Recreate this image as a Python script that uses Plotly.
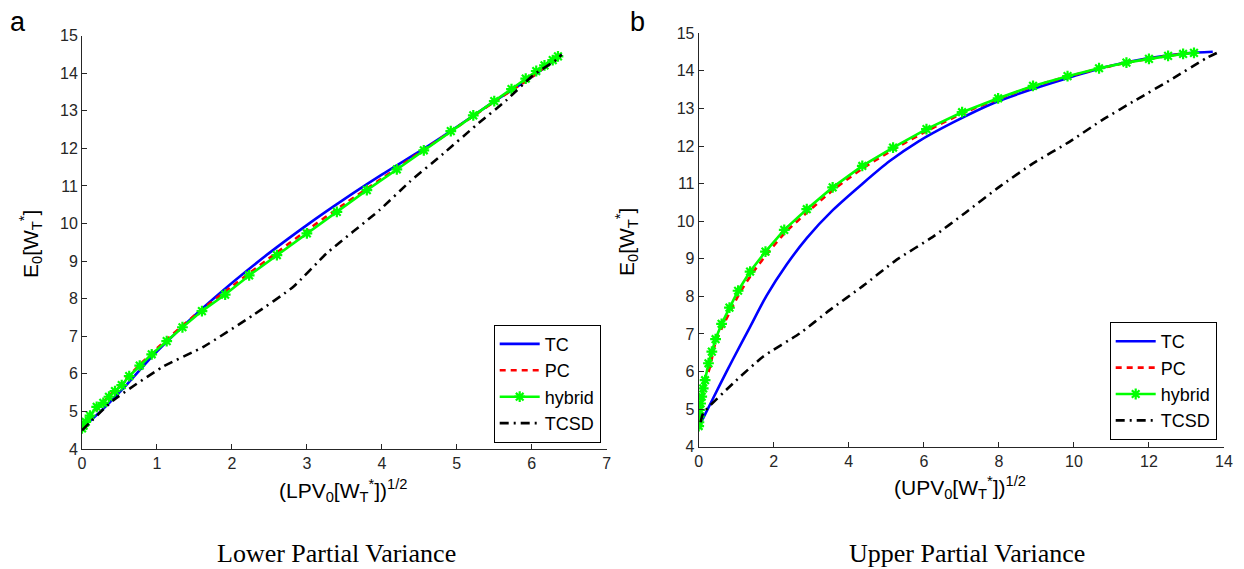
import plotly.graph_objects as go

# ---- Panel a: Lower Partial Variance ----
a_tc_x = [0, 0.3, 0.6, 0.93, 1.13, 1.5, 2.02, 2.5, 3.0, 3.5, 4.0, 4.55, 4.91, 5.5, 6.0, 6.4]
a_tc_y = [4.55, 5.1, 5.72, 6.45, 6.85, 7.55, 8.45, 9.22, 9.96, 10.65, 11.3, 11.98, 12.45, 13.25, 13.9, 14.5]

a_pc_x = [0, 0.3, 0.6, 1.0, 1.5, 2.02, 2.5, 3.0, 3.5, 4.0, 4.5, 5.0, 5.5, 6.0, 6.38]
a_pc_y = [4.55, 5.28, 5.9, 6.68, 7.55, 8.36, 9.08, 9.82, 10.52, 11.2, 11.88, 12.56, 13.24, 13.9, 14.5]

a_hy_x = [0, 0.02, 0.05, 0.107, 0.196, 0.284, 0.36, 0.44, 0.53, 0.63, 0.77, 0.93, 1.13, 1.34, 1.60,
          1.91, 2.23, 2.60, 3.0, 3.40, 3.80, 4.20, 4.56, 4.92, 5.22, 5.50, 5.73, 5.92, 6.06, 6.17,
          6.28, 6.35]
a_hy_y = [4.55, 4.62, 4.72, 4.89, 5.12, 5.23, 5.39, 5.54, 5.70, 5.94, 6.22, 6.52, 6.87, 7.24, 7.67,
          8.11, 8.62, 9.16, 9.74, 10.31, 10.89, 11.44, 11.95, 12.46, 12.88, 13.26, 13.58, 13.86, 14.06,
          14.21, 14.35, 14.45]

a_sd_x = [0, 0.42, 1.08, 1.62, 2.28, 2.82, 3.26, 3.97, 4.37, 4.82, 5.26, 5.66, 6.02, 6.33, 6.4]
a_sd_y = [4.5, 5.30, 6.19, 6.72, 7.56, 8.32, 9.20, 10.36, 11.11, 11.86, 12.62, 13.28, 13.95, 14.36, 14.5]

# ---- Panel b: Upper Partial Variance ----
b_tc_x = [0.05, 0.12, 0.57, 0.92, 1.37, 1.81, 2.34, 2.88, 3.58, 4.38, 5.09, 5.85, 6.78, 7.85, 8.82,
          9.80, 10.87, 11.93, 13.0, 13.7]
b_tc_y = [4.62, 4.76, 5.66, 6.34, 7.19, 8.02, 8.84, 9.55, 10.30, 11.01, 11.60, 12.12, 12.63, 13.14,
          13.49, 13.80, 14.11, 14.33, 14.47, 14.51]

b_hy_x = [0, 0.005, 0.015, 0.03, 0.05, 0.08, 0.12, 0.17, 0.26, 0.35, 0.45, 0.61, 0.82, 1.05, 1.37,
          1.78, 2.28, 2.88, 3.57, 4.36, 5.18, 6.07, 7.02, 7.98, 8.91, 9.83, 10.67, 11.40, 12.0,
          12.51, 12.91, 13.2]
b_hy_y = [4.55, 4.65, 4.80, 4.98, 5.15, 5.33, 5.55, 5.77, 6.22, 6.53, 6.86, 7.27, 7.70, 8.15, 8.66,
          9.19, 9.77, 10.32, 10.90, 11.47, 11.96, 12.45, 12.90, 13.27, 13.60, 13.86, 14.07, 14.22,
          14.32, 14.40, 14.45, 14.48]

b_pc_x = [0, 0.02, 0.06, 0.12, 0.2, 0.3, 0.45, 0.64, 0.86, 1.1, 1.42, 1.83, 2.33, 2.93, 3.62, 4.41,
          5.23, 6.12, 7.06, 8.0, 8.92, 9.84, 10.68, 11.4, 12.0, 12.5, 12.9, 13.2]
b_pc_y = [4.55, 4.78, 5.1, 5.48, 5.8, 6.12, 6.78, 7.2, 7.64, 8.1, 8.6, 9.14, 9.72, 10.27, 10.86, 11.43,
          11.93, 12.42, 12.88, 13.26, 13.59, 13.85, 14.06, 14.22, 14.32, 14.40, 14.45, 14.48]

b_sd_x = [0.05, 0.12, 0.92, 1.72, 2.70, 3.50, 4.38, 5.27, 6.25, 7.1, 8.02, 8.91, 9.89, 10.78, 11.66,
          12.64, 13.53, 13.88]
b_sd_y = [4.65, 4.89, 5.69, 6.40, 7.02, 7.64, 8.28, 8.97, 9.59, 10.22, 10.92, 11.54, 12.12, 12.71,
          13.23, 13.80, 14.34, 14.51]

a_xticks = [0, 1, 2, 3, 4, 5, 6, 7]
b_xticks = [0, 2, 4, 6, 8, 10, 12, 14]
yticks = [4, 5, 6, 7, 8, 9, 10, 11, 12, 13, 14, 15]

series_names = ["TC", "PC", "hybrid", "TCSD"]

W, H = 1244, 569
fig = go.Figure()

LW = 2.6


def add_panel(xs, ys, xa, ya, leg):
    styles = [
        dict(color="#0000FF", width=LW, dash="solid", shape="spline", smoothing=0.8),
        dict(color="#FF0000", width=LW, dash="6px,5px", shape="spline", smoothing=0.8),
        dict(color="#00FF00", width=LW, dash="solid"),
        dict(color="#000000", width=LW, dash="9px,5px,2px,5px", shape="spline", smoothing=0.5),
    ]
    for i in range(4):
        tr = dict(x=xs[i], y=ys[i], name=series_names[i], xaxis=xa, yaxis=ya,
                  line=styles[i], legend=leg, showlegend=True)
        if i == 2:
            tr["mode"] = "lines+markers"
            tr["marker"] = dict(symbol="asterisk-open", size=9, color="#00FF00",
                                line=dict(color="#00FF00", width=2.2))
        else:
            tr["mode"] = "lines"
        fig.add_trace(go.Scatter(**tr))


add_panel([a_tc_x, a_pc_x, a_hy_x, a_sd_x], [a_tc_y, a_pc_y, a_hy_y, a_sd_y], "x", "y", "legend")
add_panel([b_tc_x, b_pc_x, b_hy_x, b_sd_x], [b_tc_y, b_pc_y, b_hy_y, b_sd_y], "x2", "y2", "legend2")

axis_common = dict(showline=True, linecolor="#262626", linewidth=1, mirror=False,
                   ticks="inside", ticklen=5, tickcolor="#262626", showgrid=False,
                   zeroline=False, automargin=False,
                   tickfont=dict(family="Liberation Sans, Arial", size=16, color="#262626"))

leg_font = dict(family="Liberation Sans, Arial", size=18, color="#000000")

fig.update_layout(
    width=W, height=H,
    margin=dict(l=0, r=0, t=0, b=0, autoexpand=False),
    paper_bgcolor="white", plot_bgcolor="white",
    xaxis=dict(domain=[82 / W, 606.7 / W], range=[0, 7], tickvals=a_xticks, anchor="y", **axis_common),
    yaxis=dict(domain=[(H - 449) / H, (H - 35.7) / H], range=[4, 15], tickvals=yticks, anchor="x", **axis_common),
    xaxis2=dict(domain=[698.7 / W, 1224 / W], range=[0, 14], tickvals=b_xticks, anchor="y2", **axis_common),
    yaxis2=dict(domain=[(H - 446.7) / H, (H - 33.3) / H], range=[4, 15], tickvals=yticks, anchor="x2", **axis_common),
    legend=dict(x=600.7 / W, y=(H - 442.7) / H, xanchor="right", yanchor="bottom",
                bordercolor="#000000", borderwidth=1, bgcolor="white",
                font=leg_font, tracegroupgap=0, itemwidth=40),
    legend2=dict(x=1216.7 / W, y=(H - 440) / H, xanchor="right", yanchor="bottom",
                 bordercolor="#000000", borderwidth=1, bgcolor="white",
                 font=leg_font, tracegroupgap=0, itemwidth=40),
)

title_font = dict(family="Liberation Sans, Arial", size=21, color="#000000")
serif_font = dict(family="Liberation Serif, DejaVu Serif, serif", size=26, color="#000000")


def ann(text, px, py, font, angle=0):
    fig.add_annotation(text=text, x=px / W, y=1 - py / H, xref="paper", yref="paper",
                       showarrow=False, font=font, textangle=angle,
                       xanchor="center", yanchor="middle")


ann("E<sub>0</sub>[W<sub>T</sub><sup>*</sup>]", 30, 244, title_font, -90)
ann("E<sub>0</sub>[W<sub>T</sub><sup>*</sup>]", 626, 242, title_font, -90)
ann("(LPV<sub>0</sub>[W<sub>T</sub><sup>*</sup>])<sup>1/2</sup>", 343, 490, title_font)
ann("(UPV<sub>0</sub>[W<sub>T</sub><sup>*</sup>])<sup>1/2</sup>", 960, 487, title_font)
ann("Lower Partial Variance", 336, 553, serif_font)
ann("Upper Partial Variance", 967, 553, serif_font)
ann("a", 18, 22, dict(family="Liberation Sans, Arial", size=27, color="#000000"))
ann("b", 637, 22, dict(family="Liberation Sans, Arial", size=27, color="#000000"))

fig.write_html("out.html", config={"displayModeBar": False},
               post_script="document.body.style.margin='0';document.body.style.overflow='hidden';")
